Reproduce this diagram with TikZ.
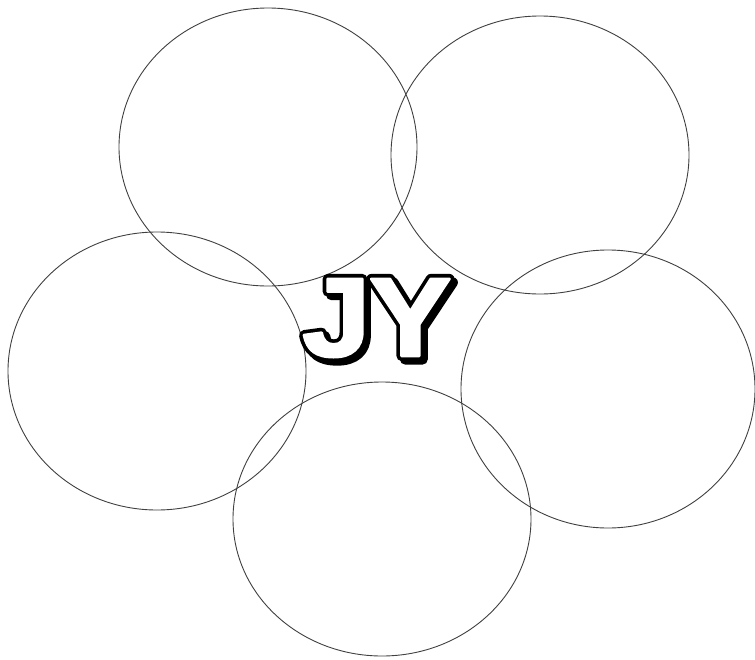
\documentclass[tikz,border=0pt]{standalone}
\usepackage{fontspec}
\newfontfamily\jyfont{Liberation Sans Bold}[FakeBold=2.5, FakeStretch=1.1]
\newfontfamily\jyfat{Liberation Sans Bold}[FakeBold=9, FakeStretch=1.1]
\usetikzlibrary{shapes.geometric}
\tikzset{
  ring/.style={ellipse, draw=black!75, line width=0.9pt, minimum width=298pt, minimum height=278pt, inner sep=0pt},
  jy/.style={font=\fontsize{112}{112}\selectfont, anchor=base west, inner sep=0pt, text=black}
}
\newcommand\letterstack[1]{%
  \pgfsetroundjoin\pgfsetroundcap
  \rlap{\hspace*{3.5pt}\raisebox{-3.5pt}{\jyfat\color{black}#1}}%
  \rlap{\jyfat\color{black}#1}%
  \textcolor{white}{\jyfont #1}%
}
\begin{document}
\begin{tikzpicture}[x=1pt, y=-1pt]
\useasboundingbox[fill=white] (0,0) rectangle (755,659);
\node[ring] (tl) at (268,147) {};
\node[ring] (tr) at (540,155) {};
\node[ring] (lf) at (157,371) {};
\node[ring, minimum width=294pt] (rt) at (608,389) {};
\node[ring, minimum height=274pt] (bt) at (382,519) {};
\node[jy] (J) at (302,356) {\letterstack{J}};
\node[jy] (Y) at (369,356) {\letterstack{Y}};
\end{tikzpicture}
\end{document}
